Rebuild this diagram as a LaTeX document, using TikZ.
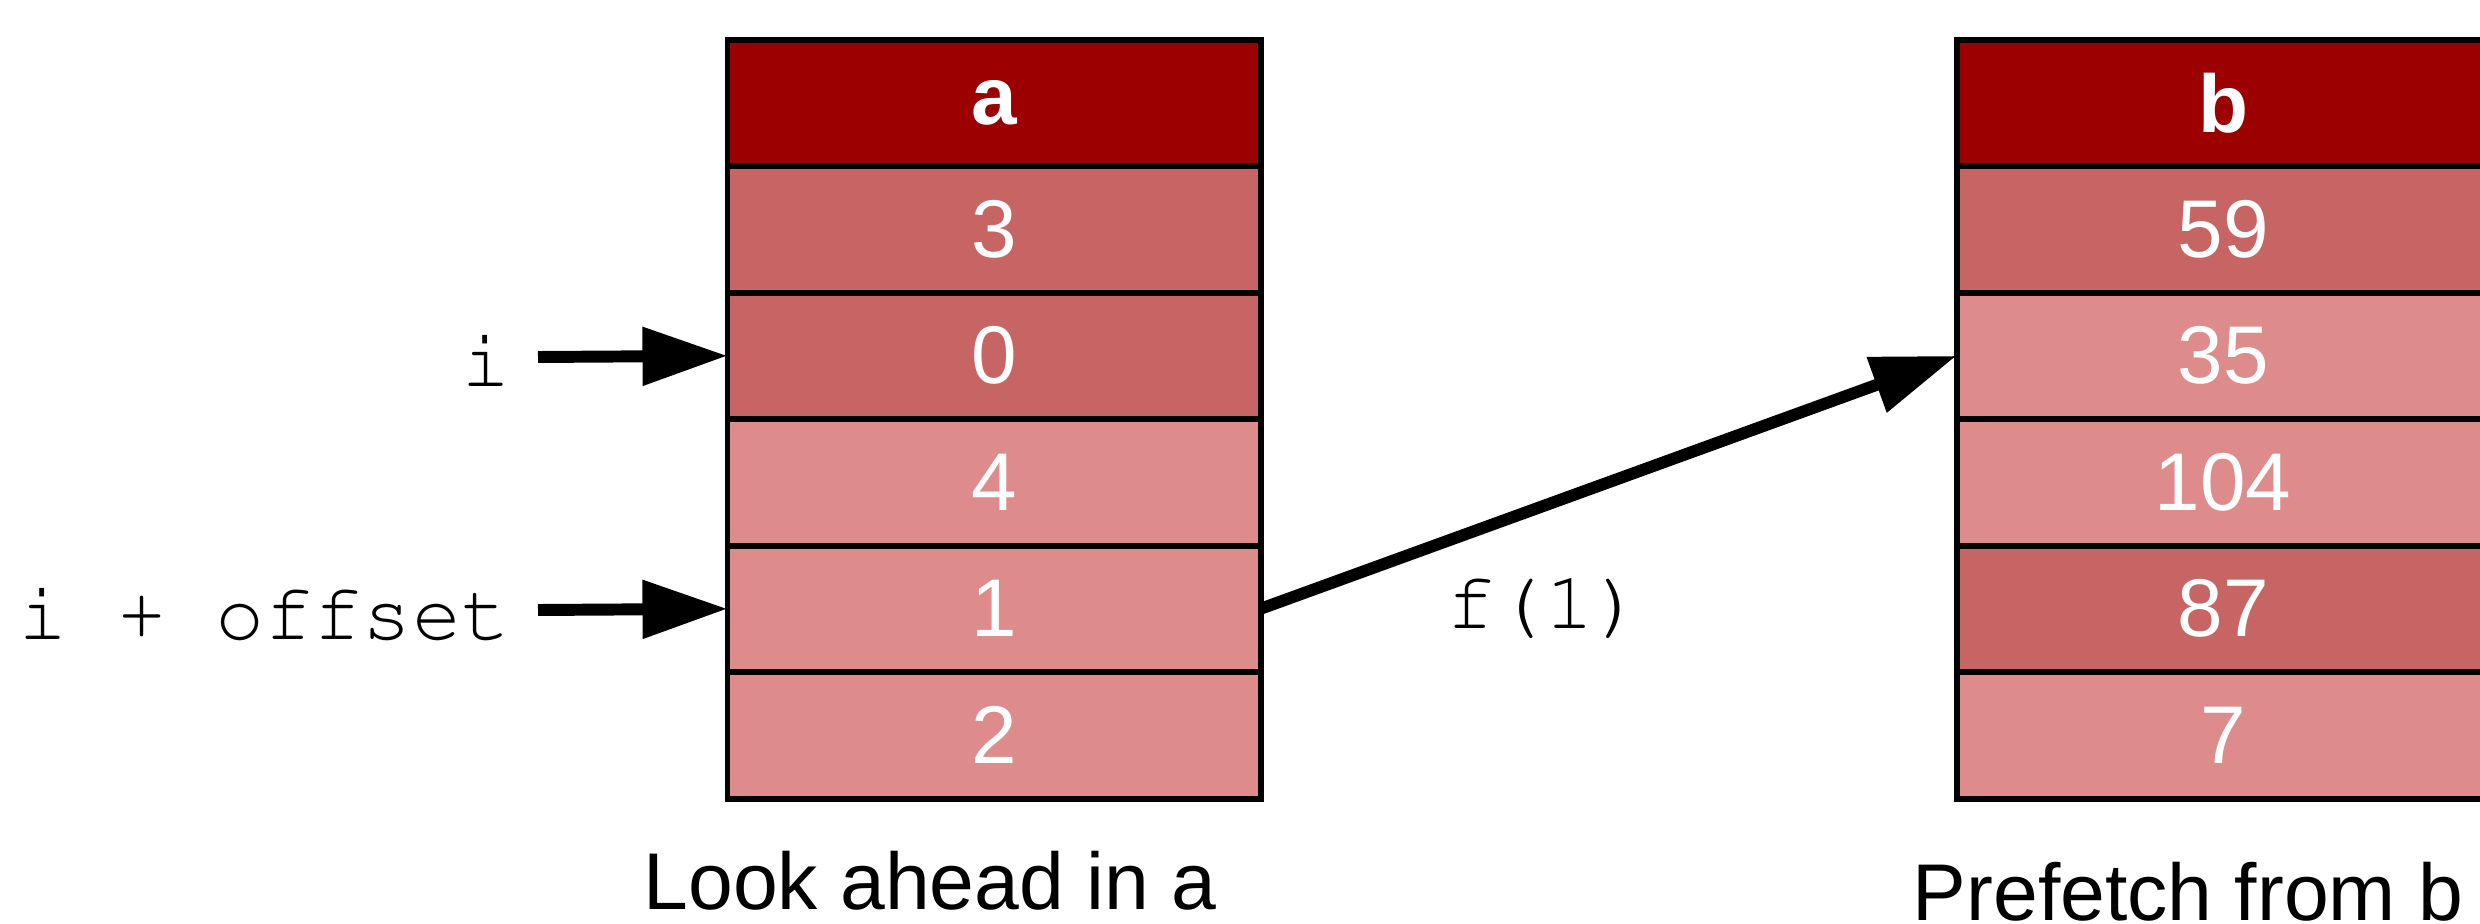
\documentclass[tikz,border=0pt]{standalone}
\usepackage{fontspec}
\setmainfont{Liberation Sans}
\usetikzlibrary{positioning,arrows.meta}

\definecolor{headred}{RGB}{156,0,0}
\definecolor{midred}{RGB}{199,101,101}
\definecolor{palered}{RGB}{221,139,139}

\newcommand{\bigtext}{\fontsize{23.3}{28}\selectfont}
\newcommand{\captext}{\fontsize{22.9}{28}\selectfont}
\newcommand{\codefont}{\fontencoding{T1}\fontfamily{pcr}\selectfont}

\tikzset{
  cell/.style={draw, line width=1.7pt, minimum width=5.33cm, minimum height=1.265cm,
    inner sep=0pt, outer sep=0pt, text=white, font=\bigtext},
  headcell/.style={cell, fill=headred, font=\bigtext\bfseries},
  darkcell/.style={cell, fill=midred},
  palecell/.style={cell, fill=palered},
  codelbl/.style={inner sep=0pt, text height=0.58cm, text depth=0pt, font=\codefont\bigtext},
  ptr/.style={-{Triangle[length=8.5mm,width=5.6mm]}, line width=3.4pt},
}

\begin{document}
\begin{tikzpicture}
  \useasboundingbox (0,0) rectangle (24.8,-9.24);

  % array a
  \node[headcell] (a0) at (9.94,-1.028) {a};
  \node[darkcell, below=0pt of a0] (a1) {3};
  \node[darkcell, below=0pt of a1] (a2) {0};
  \node[palecell, below=0pt of a2] (a3) {4};
  \node[palecell, below=0pt of a3] (a4) {1};
  \node[palecell, below=0pt of a4] (a5) {2};

  % array b
  \node[headcell] (b0) at (22.23,-1.028) {b};
  \node[darkcell, below=0pt of b0] (b1) {59};
  \node[palecell, below=0pt of b1] (b2) {35};
  \node[palecell, below=0pt of b2] (b3) {104};
  \node[darkcell, below=0pt of b3] (b4) {87};
  \node[palecell, below=0pt of b4] (b5) {7};

  % index labels
  \node[codelbl, anchor=east] (ilbl) at (5.11,-3.57) {i};
  \node[codelbl, anchor=east] (olbl) at (5.11,-6.10) {i + offset};
  \node[codelbl, anchor=base] (flbl) at (15.45,-6.28) {f(1)};

  % pointers
  \draw[ptr] ([xshift=2.7mm]ilbl.east) -- (a2.west);
  \draw[ptr] ([xshift=2.7mm]olbl.east) -- (a4.west);
  \draw[ptr] (a4.east) -- (b2.west);

  % captions
  \node[font=\captext, anchor=base, inner sep=0pt] (capa) at (9.30,-9.09) {Look ahead in a};
  \node[font=\captext, anchor=base, inner sep=0pt] (capb) at (21.88,-9.20) {Prefetch from b};
\end{tikzpicture}
\end{document}
